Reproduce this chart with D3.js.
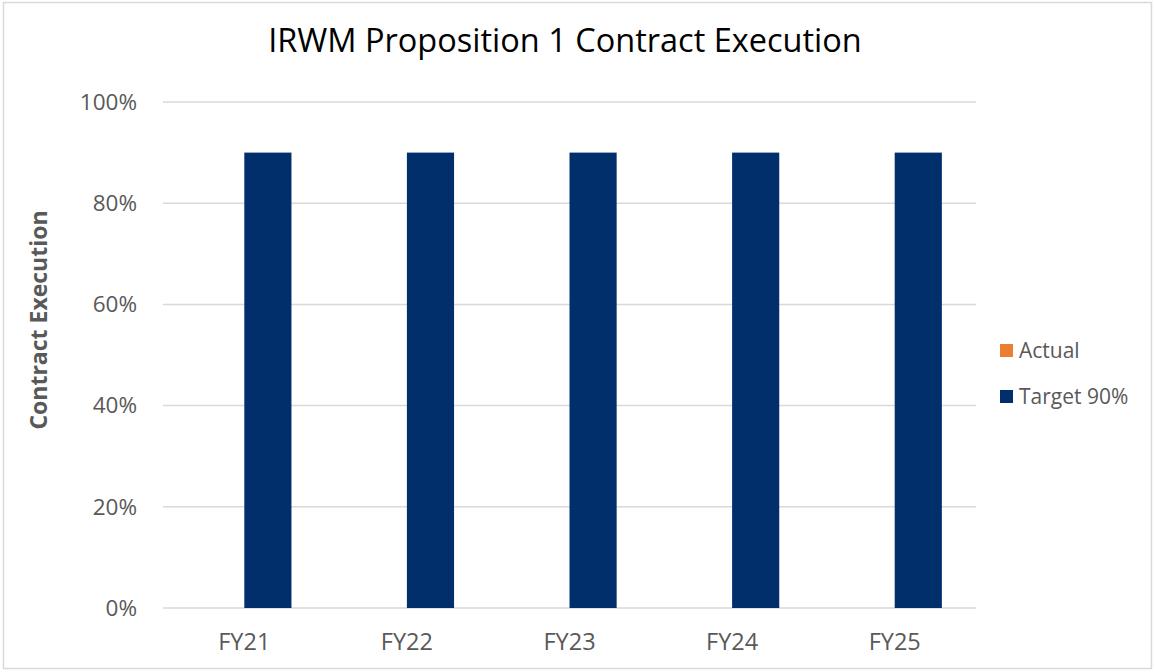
<!DOCTYPE html>
<html>
<head>
<meta charset="utf-8">
<script src="https://cdn.jsdelivr.net/npm/d3@7"></script>
<style>
  body { margin: 0; background: #fff; }
  text { font-family: "Open Sans", sans-serif; }
</style>
</head>
<body>
<svg id="chart"></svg>
<script>
var categories = ["FY21", "FY22", "FY23", "FY24", "FY25"];
var seriesNames = ["Actual", "Target 90%"];
var actual = [0, 0, 0, 0, 0];
var target = [0.9, 0.9, 0.9, 0.9, 0.9];
var yTicks = [0, 0.2, 0.4, 0.6, 0.8, 1.0];
var colors = ["#ED7D31", "#002F6C"];

var width = 1155, height = 672;
var plotLeft = 163, plotRight = 976, plotTop = 102, plotBottom = 608;

var svg = d3.select("#chart")
    .attr("width", width)
    .attr("height", height);

// chart border
svg.append("rect")
    .attr("x", 3.5)
    .attr("y", 2.5)
    .attr("width", width - 7)
    .attr("height", height - 6)
    .attr("fill", "white")
    .attr("stroke", "#d9d9d9")
    .attr("stroke-width", 1.5);

var x = d3.scaleBand()
    .domain(categories)
    .range([plotLeft, plotRight])
    .paddingInner(0.42)
    .paddingOuter(0.21);

var xInner = d3.scaleBand()
    .domain(seriesNames)
    .range([0, x.bandwidth()]);

var y = d3.scaleLinear()
    .domain([0, 1])
    .range([plotBottom, plotTop]);

// gridlines
svg.append("g")
    .selectAll("line")
    .data(yTicks)
    .join("line")
    .attr("x1", plotLeft)
    .attr("x2", plotRight)
    .attr("y1", d => y(d))
    .attr("y2", d => y(d))
    .attr("stroke", "#d9d9d9")
    .attr("stroke-width", 1.5);

// y axis labels
var yAxis = d3.axisLeft(y)
    .tickValues(yTicks)
    .tickFormat(d3.format(".0%"))
    .tickSize(0)
    .tickPadding(26);
var gy = svg.append("g")
    .attr("transform", "translate(" + plotLeft + ",0)")
    .call(yAxis);
gy.select(".domain").remove();
gy.selectAll("text")
    .attr("fill", "#595959")
    .style("font-size", "22.5px")
    .style("font-family", "Open Sans, sans-serif");

// x axis labels
var xAxis = d3.axisBottom(x).tickSize(0).tickPadding(25);
var gx = svg.append("g")
    .attr("transform", "translate(0," + plotBottom + ")")
    .call(xAxis);
gx.select(".domain").remove();
gx.selectAll("text")
    .attr("fill", "#595959")
    .style("font-size", "23.5px")
    .style("font-family", "Open Sans, sans-serif");

// bars
var rows = categories.map(function(c, i) {
  return { cat: c, values: [actual[i], target[i]] };
});

var groups = svg.append("g")
    .selectAll("g")
    .data(rows)
    .join("g")
    .attr("transform", d => "translate(" + x(d.cat) + ",0)");

groups.selectAll("rect")
    .data(d => d.values.map((v, j) => ({ name: seriesNames[j], value: v, color: colors[j] })))
    .join("rect")
    .attr("x", d => xInner(d.name))
    .attr("width", xInner.bandwidth())
    .attr("y", d => y(d.value))
    .attr("height", d => plotBottom - y(d.value))
    .attr("fill", d => d.color);

// title
svg.append("text")
    .attr("x", 565)
    .attr("y", 52)
    .attr("text-anchor", "middle")
    .attr("fill", "#000")
    .style("font-size", "32.5px")
    .text("IRWM Proposition 1 Contract Execution");

// y axis title
svg.append("text")
    .attr("transform", "translate(47,320) rotate(-90)")
    .attr("text-anchor", "middle")
    .attr("fill", "#595959")
    .style("font-size", "23px")
    .style("font-weight", "bold")
    .text("Contract Execution");

// legend
var legend = svg.append("g")
    .selectAll("g")
    .data(seriesNames)
    .join("g")
    .attr("transform", (d, i) => "translate(1000," + (344 + i * 46) + ")");

legend.append("rect")
    .attr("width", 13)
    .attr("height", 13)
    .attr("fill", (d, i) => colors[i]);

legend.append("text")
    .attr("x", 19)
    .attr("y", 14)
    .attr("fill", "#595959")
    .style("font-size", "21px")
    .text(d => d);
</script>
</body>
</html>
